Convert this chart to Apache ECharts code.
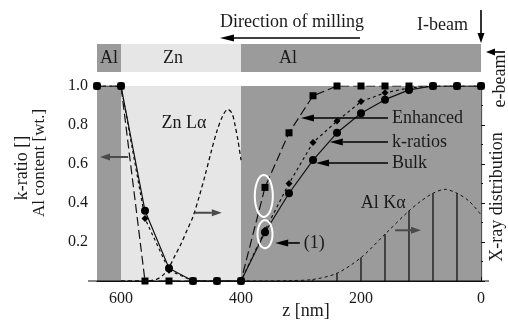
<!DOCTYPE html>
<html><head><meta charset="utf-8">
<script src="https://cdn.jsdelivr.net/npm/echarts@6/dist/echarts.min.js"></script>
<style>html,body{margin:0;padding:0;background:#fff}#c{width:508px;height:330px}</style>
</head><body><div id="c"></div>
<script>
// ---- data ----
const zPoints  = [640,600,560,520,480,440,400,360,320,280,240,200,160,120,80,40,0];
const bulk     = [1,1,0.36,0.065,0,0,0,0.25,0.45,0.62,0.76,0.86,0.93,0.98,1,1,1];
const kRatios  = [1,1,0.32,0.055,0,0,0,0.26,0.50,0.71,0.82,0.92,0.965,0.99,1,1,1];
const enhanced = [1,1,0,0,0,0,0,0.48,0.76,0.95,1,1,1,1,1,1,1];
const znLaZ = [600,560,540,530,520,510,500,490,480,470,460,450,440,430,422,415,410,405,400];
const znLaV = [0,0,0.01,0.03,0.07,0.13,0.19,0.26,0.33,0.43,0.54,0.66,0.77,0.85,0.88,0.86,0.80,0.72,0.62];
const alKaZ = [400,360,320,280,240,200,160,120,100,80,60,40,20,0];
const alKaV = [0,0,0.002,0.008,0.04,0.12,0.24,0.36,0.41,0.45,0.47,0.45,0.41,0.34];
const stemZ = [280,240,200,160,120,80,40];
const stemV = [0.008,0.04,0.12,0.24,0.36,0.45,0.45];
const layerNames = ['Al','Zn','Al'];
const layerFrom  = [640,600,400];
const layerTo    = [600,400,0];
const xTickLabels = [600,400,200,0];
const yTickLabels = [0.2,0.4,0.6,0.8,1.0];

// ---- styles ----
const FONT = '"Liberation Serif","Times New Roman",serif';
const TXT = '#1a1a1a';
const layerColor = {Al:'#9b9b9b', Zn:'#e6e6e6'};
const layerLabelOffset = [[0,0],[-8,0],[-73,0]];

const chart = echarts.init(document.getElementById('c'), null, {renderer:'canvas'});
const pair = (xs, ys) => xs.map((x,i)=>[x, ys[i]]);

const option = {
  animation:false,
  backgroundColor:'#fff',
  grid:[
    {left:97, right:27, top:86, bottom:49},
    {left:97, right:27, top:44, height:28}
  ],
  xAxis:[
    {gridIndex:0, type:'value', min:0, max:640, interval:40, inverse:true,
     axisLine:{show:true, onZero:false, lineStyle:{color:'#111', width:1.2}},
     axisTick:{show:true, inside:true, length:4, lineStyle:{color:'#111'}},
     axisLabel:{margin:10, color:TXT, fontFamily:FONT, fontSize:16,
       formatter:v=> xTickLabels.includes(v) ? String(v) : ''},
     splitLine:{show:false}},
    {gridIndex:1, type:'value', min:0, max:640, inverse:true, show:false}
  ],
  yAxis:[
    {gridIndex:0, type:'value', min:0, max:1, interval:0.2,
     axisLine:{show:true, lineStyle:{color:'#111', width:1.2}},
     axisTick:{show:true, inside:true, length:4, lineStyle:{color:'#111'}},
     minorTick:{show:true, splitNumber:2, length:2, lineStyle:{color:'#111'}},
     axisLabel:{margin:9, color:TXT, fontFamily:FONT, fontSize:16,
       formatter:v=> yTickLabels.some(t=>Math.abs(t-v)<1e-6) ? v.toFixed(1) : ''},
     splitLine:{show:false}},
    {gridIndex:1, type:'value', min:0, max:1, show:false},
    {gridIndex:0, type:'value', min:0, max:1, position:'right',
     axisLine:{show:true, lineStyle:{color:'#555', width:1}},
     axisTick:{show:false}, axisLabel:{show:false}, splitLine:{show:false}}
  ],
  series:[
    {type:'line', xAxisIndex:0, yAxisIndex:0, data:[], silent:true,
     markArea:{silent:true, data: layerNames.map((n,i)=>[
       {xAxis:layerFrom[i], itemStyle:{color:layerColor[n]}}, {xAxis:layerTo[i]}])}},
    {type:'line', xAxisIndex:1, yAxisIndex:1, data:[], silent:true,
     markArea:{silent:true, data: layerNames.map((n,i)=>[
       {name:n, xAxis:layerFrom[i], itemStyle:{color:layerColor[n]},
        label:{show:true, position:'inside', offset:layerLabelOffset[i], color:TXT,
               fontFamily:FONT, fontSize:18}},
       {xAxis:layerTo[i]}])}},
    {name:'stems', type:'bar', xAxisIndex:0, yAxisIndex:0, barWidth:1.3,
     data:pair(stemZ, stemV), itemStyle:{color:'#111'}},
    {name:'Al Ka', type:'line', xAxisIndex:0, yAxisIndex:0, data:pair(alKaZ, alKaV),
     smooth:0.3, symbol:'none', lineStyle:{color:'#111', width:1, type:[3,3]}},
    {name:'Zn La', type:'line', xAxisIndex:0, yAxisIndex:0, data:pair(znLaZ, znLaV),
     smooth:0.3, symbol:'none', lineStyle:{color:'#111', width:1.3, type:[4,3]}},
    {name:'Enhanced', type:'line', xAxisIndex:0, yAxisIndex:0, data:pair(zPoints, enhanced),
     symbol:'rect', symbolSize:7, lineStyle:{color:'#111', width:1.2, type:[9,4]},
     itemStyle:{color:'#000'}},
    {name:'k-ratios', type:'line', xAxisIndex:0, yAxisIndex:0, data:pair(zPoints, kRatios),
     symbol:'diamond', symbolSize:7, lineStyle:{color:'#111', width:1.2, type:[3,3]},
     itemStyle:{color:'#000'}},
    {name:'Bulk', type:'line', xAxisIndex:0, yAxisIndex:0, data:pair(zPoints, bulk),
     symbol:'circle', symbolSize:8, lineStyle:{color:'#111', width:1.2},
     itemStyle:{color:'#000'}}
  ]
};
chart.setOption(option);

// ---- annotations (data coordinates) ----
const labelArrows = [
  {text:'Enhanced', tail:[155,0.836], head:[300,0.836]},
  {text:'k-ratios', tail:[155,0.713], head:[252,0.713]},
  {text:'Bulk',     tail:[155,0.605], head:[275,0.605]},
  {text:'(1)',      tail:[302,0.195], head:[343,0.195]}
];
const greyArrows = [
  {tail:[588,0.636], head:[635,0.636]},
  {tail:[477,0.35],  head:[432,0.35]},
  {tail:[143,0.26],  head:[100,0.26]}
];
const seriesLabels = [
  {text:'Zn Lα', at:[495,0.81]},
  {text:'Al Kα', at:[163,0.40]}
];
const ellipses = [
  {at:[362,0.436], rx:9, ry:21},
  {at:[360,0.24], rx:7.5, ry:14}
];

const P = d => chart.convertToPixel({gridIndex:0}, d);
function arrow(x1,y1,x2,y2,color,w,hl,hw){
  const dx=x2-x1, dy=y2-y1, L=Math.hypot(dx,dy), ux=dx/L, uy=dy/L;
  const bx=x2-ux*hl, by=y2-uy*hl;
  return [
    {type:'line', shape:{x1, y1, x2:bx, y2:by}, style:{stroke:color, lineWidth:w}, z:100},
    {type:'polygon', shape:{points:[[x2,y2],[bx-uy*hw,by+ux*hw],[bx+uy*hw,by-ux*hw]]},
     style:{fill:color}, z:100}
  ];
}
function text(t,x,y,opts){
  opts = opts||{};
  return {type:'text', x, y, rotation:opts.rot||0, z:100,
    style:{text:t, fill:TXT, font:(opts.size||18)+'px '+FONT,
      textAlign:opts.align||'center', textVerticalAlign:'middle',
      align:opts.align||'center', verticalAlign:'middle'}};
}
function ellipse(cx,cy,rx,ry){
  const pts=[];
  for(let i=0;i<=48;i++){const a=i/48*Math.PI*2; pts.push([cx+rx*Math.cos(a), cy+ry*Math.sin(a)]);}
  return {type:'polyline', shape:{points:pts}, style:{stroke:'#fff', lineWidth:2, fill:null}, z:99};
}

let g = [];
// baseline extension beyond the plot, as in the reference
const b0 = P([640,0]), b1 = P([0,0]);
g.push({type:'line', shape:{x1:b0[0]-9, y1:b0[1], x2:b1[0]+8, y2:b1[1]},
        style:{stroke:'#111', lineWidth:1.2}, z:50});

labelArrows.forEach(a=>{
  const t=P(a.tail), h=P(a.head);
  g = g.concat(arrow(t[0],t[1],h[0],h[1],'#000',1.6,13,3.5));
  g.push(text(a.text, t[0]+4, t[1], {align:'left'}));
});
greyArrows.forEach(a=>{
  const t=P(a.tail), h=P(a.head);
  g = g.concat(arrow(t[0],t[1],h[0],h[1],'#4a4a4a',2,10,3.5));
});
seriesLabels.forEach(s=>{ const p=P(s.at); g.push(text(s.text,p[0],p[1])); });
ellipses.forEach(e=>{ const p=P(e.at); g.push(ellipse(p[0],p[1],e.rx,e.ry)); });

// header & axis titles (page layout)
g.push(text('Direction of milling', 292, 22));
g = g.concat(arrow(360,38,220,38,'#000',1.6,14,3.5));
g.push(text('I-beam', 468, 25, {align:'right'}));
g = g.concat(arrow(481,10,481,43,'#000',1.6,10,3.5));
g.push(text('e-beam', 500, 81, {rot:Math.PI/2}));
g = g.concat(arrow(505,52,486,52,'#000',1.6,9,3.5));
g.push(text('k-ratio []', 22, 168, {rot:Math.PI/2}));
g.push(text('Al content [wt.]', 40, 163, {rot:Math.PI/2, size:17}));
g.push(text('X-ray distribution', 497, 197, {rot:Math.PI/2}));
g.push(text('z [nm]', 306, 311));

chart.setOption({graphic:{elements:g}});
</script></body></html>
